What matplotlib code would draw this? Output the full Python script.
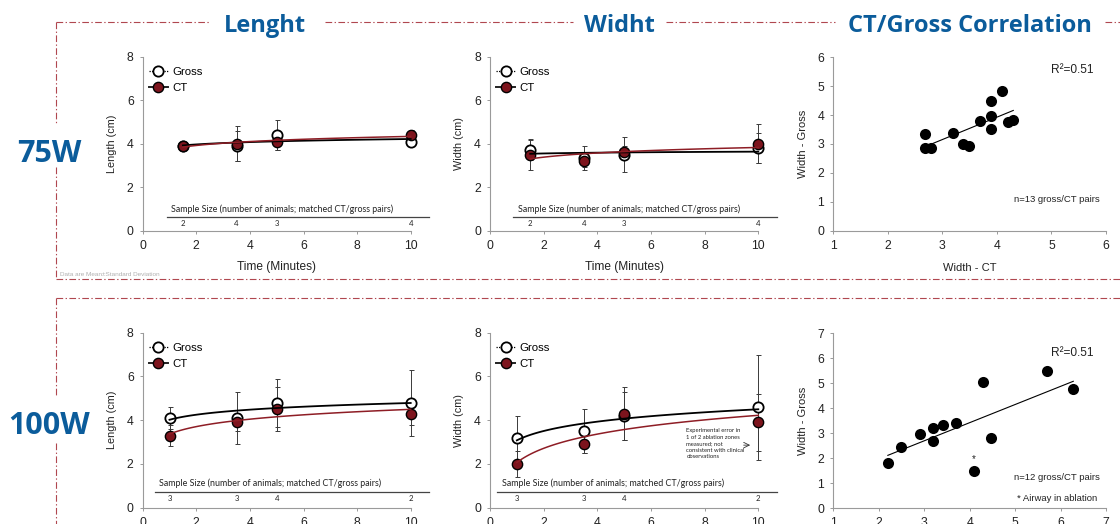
import numpy as np
import matplotlib
matplotlib.use('Agg')
import matplotlib.pyplot as plt
from matplotlib.lines import Line2D

W, H = 1120, 524

# ---------------- data ----------------
time_75 = [1.5, 3.5, 5, 10]
len75_gross = [3.9, 3.9, 4.4, 4.1]
len75_gross_sd = [0.05, 0.7, 0.7, 0.2]
len75_ct = [3.9, 4.0, 4.1, 4.4]
len75_ct_sd = [0.05, 0.8, 0.4, 0.25]
wid75_gross = [3.7, 3.35, 3.5, 3.8]
wid75_gross_sd = [0.47, 0.55, 0.8, 0.7]
wid75_ct = [3.5, 3.2, 3.6, 4.0]
wid75_ct_sd = [0.7, 0.25, 0.3, 0.9]
n_75 = [2, 4, 3, 4]

time_100 = [1, 3.5, 5, 10]
len100_gross = [4.1, 4.1, 4.8, 4.8]
len100_gross_sd = [0.5, 1.2, 1.1, 1.5]
len100_ct = [3.3, 3.9, 4.5, 4.3]
len100_ct_sd = [0.5, 0.4, 1.0, 0.5]
wid100_gross = [3.2, 3.5, 4.2, 4.6]
wid100_gross_sd = [1.0, 1.0, 1.1, 2.4]
wid100_ct = [2.0, 2.9, 4.3, 3.9]
wid100_ct_sd = [0.6, 0.4, 1.2, 1.3]
n_100 = [3, 3, 4, 2]

corr75_ct = [2.68, 2.69, 2.80, 3.20, 3.38, 3.49, 3.69, 3.89, 3.89, 3.89, 4.10, 4.21, 4.30]
corr75_gross = [3.33, 2.87, 2.87, 3.39, 3.00, 2.94, 3.79, 4.50, 3.97, 3.52, 4.83, 3.75, 3.83]
corr100_ct = [2.20, 2.50, 2.91, 3.20, 3.20, 3.41, 3.70, 4.10, 4.29, 4.48, 5.70, 6.28]
corr100_gross = [1.83, 2.47, 2.97, 3.23, 2.71, 3.33, 3.40, 1.51, 5.07, 2.83, 5.51, 4.77]

row_labels = ['75W', '100W']
col_titles = ['Lenght', 'Widht', 'CT/Gross Correlation']

# ---------------- style ----------------
ARIAL = 'Liberation Sans'
CALIBRI = 'Lato'
TITLE_FONT = 'Open Sans'
BLUE = '#0b5c9b'
CT_RED = '#7d141d'
FRAME = '#b0474f'
SPINE = '#9a9a9a'
TXT = '#222222'

plt.rcParams['font.family'] = [ARIAL, 'DejaVu Sans']

fig = plt.figure(figsize=(W / 100, H / 100), dpi=100)


def px_axes(l, t, r, b, z=1):
    return fig.add_axes([l / W, 1 - b / H, (r - l) / W, (b - t) / H], zorder=z)


# background overlay for frame, titles, row labels
bg = fig.add_axes([0, 0, 1, 1], zorder=0)
bg.set_xlim(0, W)
bg.set_ylim(H, 0)
bg.axis('off')

dd = (0, (6, 2.2, 1.2, 2.2))
for (x0, x1, y) in [(56, 210, 22), (325, 573, 22), (666, 835, 22), (1105, 1120, 22),
                    (56, 1120, 278.5), (56, 1120, 297.5)]:
    bg.plot([x0, x1], [y, y], color=FRAME, lw=0.8, ls=dd)
for (y0, y1) in [(22, 123), (167, 278.5), (297.5, 397), (443, 524)]:
    bg.plot([56, 56], [y0, y1], color=FRAME, lw=0.8, ls=dd)

for cx, t in zip([265, 619, 970], col_titles):
    bg.text(cx, 32.5, t, ha='center', va='baseline', fontsize=17, fontweight='bold',
            color=BLUE, family=TITLE_FONT)
for cy, t in zip([162, 434], row_labels):
    bg.text(49, cy, t, ha='center', va='baseline', fontsize=22, fontweight='bold',
            color=BLUE, family=TITLE_FONT)
bg.text(60, 274, 'Data are Mean\u00b1Standard Deviation', ha='left', va='center',
        fontsize=4.6, color='#b0b0b0')


def style_axes(ax):
    for s in ['top', 'right']:
        ax.spines[s].set_visible(False)
    for s in ['left', 'bottom']:
        ax.spines[s].set_color(SPINE)
        ax.spines[s].set_linewidth(0.8)
    ax.tick_params(direction='out', length=2.5, width=0.7, color=SPINE,
                   labelsize=8.8, labelcolor=TXT, pad=4)
    ax.patch.set_alpha(0)


def log_fit(x, y):
    x = np.asarray(x, float)
    y = np.asarray(y, float)
    b, a = np.polyfit(np.log(x), y, 1)
    xs = np.linspace(x.min(), x.max(), 100)
    return xs, a + b * np.log(xs)


def line_panel(ax, t, g, gsd, c, csd, ylabel, nvals, line_y, line_x0, text_x, show_xlabel):
    style_axes(ax)
    ax.set_xlim(0, 10)
    ax.set_ylim(0, 8)
    ax.set_xticks([0, 2, 4, 6, 8, 10])
    ax.set_yticks([0, 2, 4, 6, 8])
    ax.errorbar(t, g, yerr=gsd, fmt='none', ecolor='#3a3a3a', elinewidth=0.7,
                capsize=1.8, capthick=0.7, zorder=2, clip_on=False)
    ax.errorbar(t, c, yerr=csd, fmt='none', ecolor='#3a3a3a', elinewidth=0.7,
                capsize=1.8, capthick=0.7, zorder=2, clip_on=False)
    ax.plot(t, g, 'o', mfc='white', mec='black', mew=1.3, ms=7.4, zorder=3, clip_on=False)
    ax.plot(t, c, 'o', mfc=CT_RED, mec='black', mew=1.0, ms=7.4, zorder=4, clip_on=False)
    xs, ys = log_fit(t, g)
    ax.plot(xs, ys, color='black', lw=1.3, zorder=5, clip_on=False)
    xs, ys = log_fit(t, c)
    ax.plot(xs, ys, color='#8e1d25', lw=1.1, zorder=6, clip_on=False)
    ax.set_ylabel(ylabel, fontsize=7.8, color=TXT, labelpad=7)
    if show_xlabel:
        ax.set_xlabel('Time (Minutes)', fontsize=8.6, color=TXT, labelpad=6.5)
    # sample size strip
    ax.plot([line_x0, 10.7], [line_y, line_y], color='#444444', lw=0.9, clip_on=False, zorder=2)
    ax.text(text_x, line_y + 0.15, 'Sample Size (number of animals; matched CT/gross pairs)',
            ha='center', va='bottom', fontsize=6.4, family=CALIBRI, color=TXT)
    for xi, n in zip(t, nvals):
        ax.text(xi, line_y - 0.32, str(n), ha='center', va='center', fontsize=5.6,
                family=CALIBRI, color=TXT)
    handles = [Line2D([], [], color='black', ls=(0, (1, 1)), lw=0.9, marker='o', mfc='white',
                      mec='black', mew=1.3, ms=7.4),
               Line2D([], [], color='#222222', ls='-', lw=1.4, marker='o', mfc=CT_RED,
                      mec='black', mew=1.0, ms=7.4)]
    ax.legend(handles, ['Gross', 'CT'], loc='upper left', bbox_to_anchor=(0.022, 0.94),
              frameon=False, fontsize=8.2, handlelength=1.7, handletextpad=0.35,
              labelspacing=0.55, borderaxespad=0, borderpad=0)


def corr_panel(ax, x, y, ymax, xmax, n_text, show_xlabel, r_y, n_y):
    style_axes(ax)
    ax.set_xlim(1, xmax)
    ax.set_ylim(0, ymax)
    ax.set_xticks(range(1, xmax + 1))
    ax.set_yticks(range(0, ymax + 1))
    x = np.asarray(x)
    y = np.asarray(y)
    m, b = np.polyfit(x, y, 1)
    xs = np.array([x.min(), x.max()])
    ax.plot(xs, m * xs + b, color='black', lw=0.8, zorder=2)
    ax.scatter(x, y, s=64, color='black', zorder=3, linewidths=0)
    ax.set_ylabel('Width - Gross', fontsize=8, color=TXT, labelpad=7)
    if show_xlabel:
        ax.set_xlabel('Width - CT', fontsize=8, color=TXT, labelpad=8)
    ax.text(0.955, r_y, 'R\u00b2=0.51', transform=ax.transAxes, ha='right', va='center',
            fontsize=8.6, color=TXT)
    ax.text(0.82, n_y, n_text, transform=ax.transAxes, ha='center', va='center',
            fontsize=6.8, color=TXT)


# top row
a1 = px_axes(142.7, 56.7, 410.7, 230.7, z=2)
line_panel(a1, time_75, len75_gross, len75_gross_sd, len75_ct, len75_ct_sd,
           'Length (cm)', n_75, 0.64, 0.9, 5.2, True)
a2 = px_axes(490, 56.7, 758.3, 230.7, z=2)
line_panel(a2, time_75, wid75_gross, wid75_gross_sd, wid75_ct, wid75_ct_sd,
           'Width (cm)', n_75, 0.64, 0.85, 5.2, True)
a3 = px_axes(833.3, 57.3, 1106, 230.7, z=2)
corr_panel(a3, corr75_ct, corr75_gross, 6, 6, 'n=13 gross/CT pairs', True, 0.925, 0.18)

# bottom row (x-axis titles fall below the visible area, as in the reference)
b1 = px_axes(142.7, 332.7, 410.7, 507.7, z=2)
line_panel(b1, time_100, len100_gross, len100_gross_sd, len100_ct, len100_ct_sd,
           'Length (cm)', n_100, 0.73, 0.45, 4.75, False)
b2 = px_axes(490, 332.7, 758.3, 507.7, z=2)
line_panel(b2, time_100, wid100_gross, wid100_gross_sd, wid100_ct, wid100_ct_sd,
           'Width (cm)', n_100, 0.73, 0.25, 4.6, False)
b2.text(7.32, 3.64, 'Experimental error in\n1 of 2 ablation zones\nmeasured; not\n'
        'consistent with clinical\nobservations', ha='left', va='top', fontsize=4.2,
        family=CALIBRI, color=TXT, linespacing=1.4)
b2.annotate('', xy=(9.8, 2.86), xytext=(9.35, 2.86),
            arrowprops=dict(arrowstyle='->', lw=0.6, color='#333333'))
b3 = px_axes(833.3, 333.3, 1106, 508.3, z=2)
corr_panel(b3, corr100_ct, corr100_gross, 7, 7, 'n=12 gross/CT pairs', False, 0.89, 0.175)
b3.text(0.82, 0.055, '* Airway in ablation', transform=b3.transAxes, ha='center',
        va='center', fontsize=6.8, color=TXT)
b3.annotate('*', xy=(corr100_ct[7], corr100_gross[7]), xytext=(0, 8),
            textcoords='offset points', ha='center', va='center', fontsize=7, color=TXT)

fig.savefig('out.png', dpi=100)
